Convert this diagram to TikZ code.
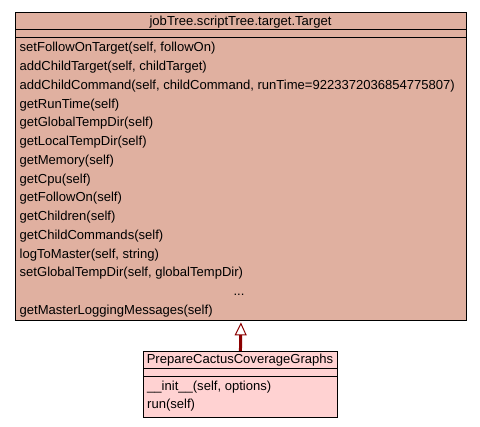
\documentclass[tikz,border=0pt]{standalone}
\usepackage{fontspec}
\setmainfont{Liberation Sans}
\usetikzlibrary{arrows.meta}
\definecolor{basefill}{RGB}{224,176,160}
\definecolor{subfill}{RGB}{255,210,210}
\definecolor{inherit}{RGB}{139,0,0}
\tikzset{
    classbox/.style = {draw, line width=0.9pt, inner sep=0, anchor=north west},
    member/.style = {anchor=base west, inner sep=0, font=\fontsize{13.05}{15}\selectfont},
    heading/.style = {member, anchor=base}
}
\begin{document}
\begin{tikzpicture}[x=1pt, y=-1pt]
        \useasboundingbox (0,0) rectangle (480,427);
        % base class
        \node[classbox, fill=basefill, minimum width=451, minimum height=307.5] (target) at (15,12.5) {};
        \node[heading] (targetname) at (240.5,25.8) {jobTree.scriptTree.target.Target};
        \draw[line width=0.9pt] ([yshift=-16.8pt]target.north west) -- ([yshift=-16.8pt]target.north east);
        \draw[line width=0.9pt] ([yshift=-25.2pt]target.north west) -- ([yshift=-25.2pt]target.north east);
        \foreach \m [count=\i from 0] in {{setFollowOnTarget(self, followOn)},
            {addChildTarget(self, childTarget)},
            {addChildCommand(self, childCommand, runTime=9223372036854775807)},
            {getRunTime(self)}, {getGlobalTempDir(self)}, {getLocalTempDir(self)},
            {getMemory(self)}, {getCpu(self)}, {getFollowOn(self)}, {getChildren(self)},
            {getChildCommands(self)}, {logToMaster(self, string)},
            {setGlobalTempDir(self, globalTempDir)}}
            \node[member] (m\i) at (19.5,51.8+18.75*\i) {\m};
        \node[heading] (dots) at (239,295.5) {...};
        \node[member] (mlast) at (19.5,314.3) {getMasterLoggingMessages(self)};
        % derived class
        \node[classbox, fill=subfill, minimum width=194, minimum height=66] (sub) at (143,351) {};
        \node[heading] (subname) at (240,363.8) {PrepareCactusCoverageGraphs};
        \draw[line width=0.9pt] ([yshift=-17pt]sub.north west) -- ([yshift=-17pt]sub.north east);
        \draw[line width=0.9pt] ([yshift=-25.8pt]sub.north west) -- ([yshift=-25.8pt]sub.north east);
        \node[member] (s0) at (147,391) {\_\_init\_\_(self, options)};
        \node[member] (s1) at (147,409) {run(self)};
        % inheritance
        \draw[inherit, line width=3pt, shorten >=1.5pt,
            -{Triangle[open, length=13pt, width=12pt, line width=1pt]}] (sub.north) -- (target.south);
\end{tikzpicture}
\end{document}
